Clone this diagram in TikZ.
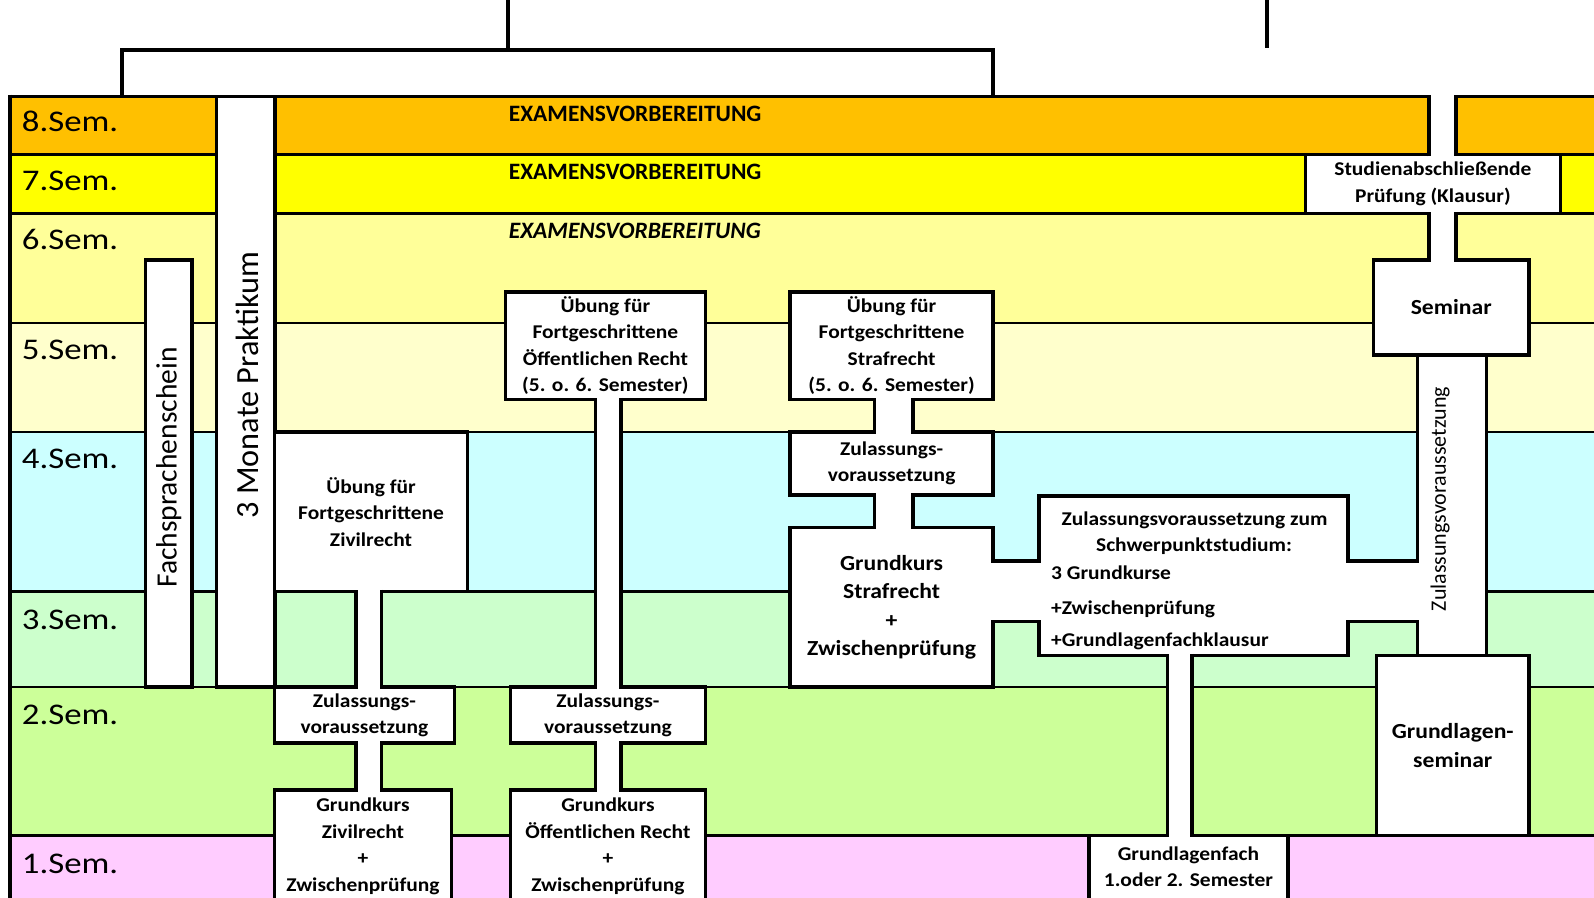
\documentclass[tikz,border=0pt]{standalone}
\usepackage{fontspec}
\setmainfont{Carlito}
\newfontfamily\semfont[FakeStretch=1.16]{Carlito}
\newfontfamily\boxfont[FakeStretch=1.1]{Carlito}
\definecolor{c8}{HTML}{FFC000}
\definecolor{c7}{HTML}{FFFF00}
\definecolor{c6}{HTML}{FFFF99}
\definecolor{c5}{HTML}{FFFFCC}
\definecolor{c4}{HTML}{CCFFFF}
\definecolor{c3}{HTML}{CCFFCC}
\definecolor{c2}{HTML}{CCFF99}
\definecolor{c1}{HTML}{FFCCFF}
\tikzset{
  rowline/.style={line width=2.5pt},
  box/.style={draw, fill=white, line width=3.5pt, inner sep=0pt, outer sep=0pt, align=center, font=\boxfont\bfseries\fontsize{19.5}{26.5}\selectfont},
  bigbox/.style={box, font=\boxfont\bfseries\fontsize{21.5}{28.5}\selectfont},
  bar/.style={draw, fill=white, line width=3.5pt, inner sep=0pt, outer sep=0pt},
  conn/.style={line width=3.5pt, double=white, double distance=#1, shorten <=-1.75pt, shorten >=-1.75pt},
  semlab/.style={anchor=base west, inner sep=0pt, font=\semfont\fontsize{30}{30}\selectfont},
  exlab/.style={anchor=base west, inner sep=0pt, font=\bfseries\fontsize{23.5}{23.5}\selectfont},
  btxt/.style={inner sep=0pt, align=center, font=\boxfont\bfseries\fontsize{19.5}{26.5}\selectfont},
  vtxt/.style={inner sep=0pt, rotate=90},
  bracket/.style={line width=4pt},
}
\begin{document}
\begin{tikzpicture}[x=1pt,y=-1pt]
\useasboundingbox (0,0) rectangle (1594,897);
\clip (0,0) rectangle (1594,897);
% semester rows
\fill[c8] (10,96.5) rectangle (1600,154.5);
\fill[c7] (10,154.5) rectangle (1600,213.5);
\fill[c6] (10,213.5) rectangle (1600,323);
\fill[c5] (10,323) rectangle (1600,432);
\fill[c4] (10,432) rectangle (1600,591.7);
\fill[c3] (10,591.7) rectangle (1600,687.2);
\fill[c2] (10,687.2) rectangle (1600,835.6);
\fill[c1] (10,835.6) rectangle (1600,900);
\foreach \yy in {154.5,213.5,323,432,591.7,687.2,835.6}
  \draw[rowline] (10,\yy) -- (1600,\yy);
\draw[line width=3pt] (8,96.5) -- (1600,96.5);
\draw[line width=4pt] (9.5,94.5) -- (9.5,900);
% bracket at the top
\coordinate (brTop) at (508,-2);
\coordinate (brMid) at (508,49.7);
\coordinate (brL) at (122,96.5);
\coordinate (brR) at (993,96.5);
\draw[bracket] (brTop) -- (brMid);
\draw[bracket] (brL) |- (brMid) -| (brR);
\coordinate (rTop) at (1266.7,-2);
\coordinate (rBot) at (1266.7,48);
\draw[bracket] (rTop) -- (rBot);
% vertical bars
\node[bar, minimum width=46.5pt, minimum height=427.2pt] (fach) at (168.75,473.6) {};
\node[bar, minimum width=58.5pt, minimum height=590.7pt] (prak) at (245.75,391.85) {};
% Zivilrecht
\node[box, minimum width=193.1pt, minimum height=159.7pt] (uebZiv) at (371.05,511.85) {Übung für\\Fortgeschrittene\\Zivilrecht};
\node[box, minimum width=179.9pt, minimum height=55.9pt] (zulZiv) at (364.45,715.15) {Zulassungs-\\voraussetzung};
\node[box, minimum width=176.9pt, minimum height=140pt] (gkZiv) at (362.95,859.9) {};
\node[btxt, anchor=north, yshift=-8pt] (gkZivT) at (gkZiv.north) {Grundkurs\\Zivilrecht\\+\\Zwischenprüfung};
% Oeffentliches Recht
\node[box, minimum width=200.2pt, minimum height=107.7pt] (uebOR) at (605.4,345.65) {Übung für\\Fortgeschrittene\\Öffentlichen Recht\\(5. o. 6. Semester)};
\node[box, minimum width=195.2pt, minimum height=55.9pt] (zulOR) at (607.9,715.15) {Zulassungs-\\voraussetzung};
\node[box, minimum width=195.2pt, minimum height=140pt] (gkOR) at (607.9,859.9) {};
\node[btxt, anchor=north, yshift=-8pt] (gkORT) at (gkOR.north) {Grundkurs\\Öffentlichen Recht\\+\\Zwischenprüfung};
% Strafrecht
\node[box, minimum width=203.2pt, minimum height=107.7pt] (uebStr) at (891.6,345.65) {Übung für\\Fortgeschrittene\\Strafrecht\\(5. o. 6. Semester)};
\node[box, minimum width=203.2pt, minimum height=63pt] (zulStr) at (891.6,463.5) {Zulassungs-\\voraussetzung};
\node[bigbox, minimum width=203.2pt, minimum height=159.6pt] (gkStr) at (891.6,607.4) {Grundkurs\\Strafrecht\\+\\Zwischenprüfung};
% Schwerpunkt
\node[box, minimum width=309pt, minimum height=159.7pt] (schwer) at (1193.5,575.85) {};
\node[box, minimum width=199.2pt, minimum height=100pt] (glfach) at (1188.4,885.6) {};
\node[btxt, anchor=north, yshift=-11pt] (glfachT) at (glfach.north) {Grundlagenfach\\1.oder 2. Semester};
% right column
\node[bigbox, minimum width=152.5pt, minimum height=179.9pt] (glsem) at (1452.75,745.65) {Grundlagen-\\seminar};
\node[bigbox, minimum width=155.6pt, minimum height=94.8pt] (seminar) at (1451.2,307.4) {Seminar};
\node[box, minimum width=255.2pt, minimum height=59pt] (studien) at (1432.9,184) {Studienabschließende\\Prüfung (Klausur)};
\node[bar, minimum width=68.8pt, minimum height=300.9pt] (zulbar) at (1452,505.25) {};
% connectors
\coordinate (cZv) at (368.5,0);
\draw[conn=22pt] (uebZiv.south -| cZv) -- (zulZiv.north -| cZv);
\draw[conn=22pt] (zulZiv.south -| cZv) -- (gkZiv.north -| cZv);
\coordinate (cOR) at (608.2,0);
\draw[conn=22pt] (uebOR.south -| cOR) -- (zulOR.north -| cOR);
\draw[conn=22pt] (zulOR.south -| cOR) -- (gkOR.north -| cOR);
\coordinate (cSt) at (893.5,0);
\draw[conn=35pt] (uebStr.south -| cSt) -- (zulStr.north -| cSt);
\draw[conn=35pt] (zulStr.south -| cSt) -- (gkStr.north -| cSt);
\coordinate (cGf) at (1179.5,0);
\draw[conn=21pt] (schwer.south -| cGf) -- (glfach.north -| cGf);
\coordinate (cS) at (1442.5,0);
\coordinate (topS) at (1442.5,96.5);
\draw[conn=23.5pt] (studien.north -| cS) -- (topS);
\draw[conn=23.5pt] (studien.south -| cS) -- (seminar.north -| cS);
\coordinate (cH) at (0,591.3);
\draw[conn=57pt] (gkStr.east |- cH) -- (schwer.west |- cH);
\draw[conn=57pt] (schwer.east |- cH) -- (zulbar.west |- cH);
% Schwerpunkt text
\node[btxt, anchor=base] (sw1) at (1194.5,525) {Zulassungsvoraussetzung zum};
\node[btxt, anchor=base] (sw2) at (1194,551.5) {Schwerpunktstudium:};
\node[btxt, anchor=base west] (sw3) at (1051,579) {3 Grundkurse};
\node[btxt, anchor=base west] (sw4) at (1051,614.5) {+Zwischenprüfung};
\node[btxt, anchor=base west] (sw5) at (1051,646) {+Grundlagenfachklausur};
% rotated labels
\node[vtxt, font=\fontsize{29.5}{29.5}\selectfont] (fachT) at (168.8,467.6) {Fachsprachenschein};
\node[vtxt, font=\fontsize{32.3}{32.3}\selectfont] (prakT) at (247,385) {3 Monate Praktikum};
\node[vtxt, font=\fontsize{22}{22}\selectfont] (zulT) at (1440,499) {Zulassungsvoraussetzung};
% semester labels
\node[semlab] (s8) at (21.7,131.7) {8.Sem.};
\node[semlab] (s7) at (21.7,190.7) {7.Sem.};
\node[semlab] (s6) at (21.7,249.3) {6.Sem.};
\node[semlab] (s5) at (21.7,359.3) {5.Sem.};
\node[semlab] (s4) at (21.7,468.3) {4.Sem.};
\node[semlab] (s3) at (21.7,629.3) {3.Sem.};
\node[semlab] (s2) at (21.7,724.3) {2.Sem.};
\node[semlab] (s1) at (21.7,873.3) {1.Sem.};
% exam preparation
\node[exlab] (ex8) at (508.6,121.3) {EXAMENSVORBEREITUNG};
\node[exlab] (ex7) at (508.6,179.3) {EXAMENSVORBEREITUNG};
\node[exlab] (ex6) at (508.6,238.3) {\itshape EXAMENSVORBEREITUNG};
\end{tikzpicture}
\end{document}
